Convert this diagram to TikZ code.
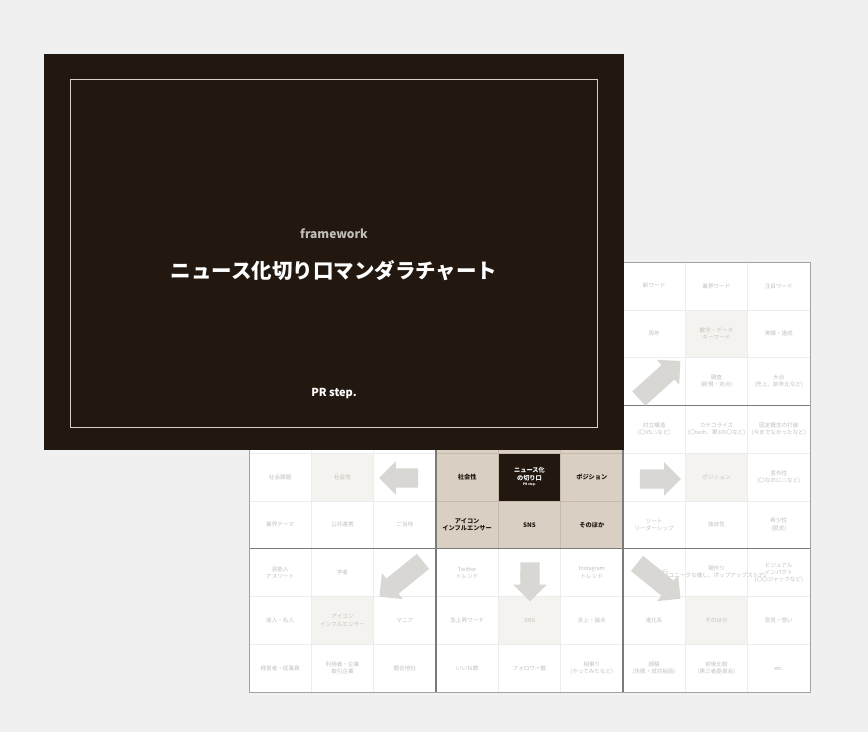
\documentclass[tikz,border=0pt]{standalone}
\usepackage{fontspec}
\setmainfont{Noto Sans CJK JP}
\usetikzlibrary{shapes.arrows}
\definecolor{cardBrown}{HTML}{231810}
\definecolor{coreTan}{HTML}{D9CFC3}
\definecolor{coreLine}{HTML}{C6BAAC}
\definecolor{softCell}{HTML}{F5F3F0}
\definecolor{arrowGray}{HTML}{D9D7D3}
\definecolor{faintText}{HTML}{C4C0BC}
\definecolor{pageGray}{HTML}{F0F0F0}
\definecolor{cellLine}{HTML}{EDEDED}
\definecolor{blockLine}{HTML}{7A7A7A}
\definecolor{frameLine}{HTML}{D6D0CA}
\begin{document}
\begin{tikzpicture}
[x=1pt,y=1pt,
  cellText/.style={text=faintText,font=\fontsize{5.6}{7.2}\selectfont,align=center,inner sep=0pt},%
  coreText/.style={text=cardBrown,font=\bfseries\fontsize{6.2}{7.6}\selectfont,align=center,inner sep=0pt},%
  bigArrow/.style={single arrow,fill=arrowGray,inner sep=9.5pt,single arrow head extend=7pt,
    single arrow head indent=0pt,minimum height=40pt}]
%% page
\fill[pageGray] (0,0) rectangle (868,732);
\useasboundingbox (0,0) rectangle (868,732);
\fill[white] (249,40) rectangle (810,470);
%% highlighted cells
\foreach \r/\c in {1/7, 4/1, 4/7, 7/1, 7/4, 7/7}
{
  \fill[softCell] ({249+\c*62.33},{470-\r*47.78}) rectangle ({249+(\c+1)*62.33},{470-(\r+1)*47.78});
}
\fill[coreTan] ({249+3*62.33},{470-3*47.78}) rectangle ({249+6*62.33},{470-6*47.78});
\fill[cardBrown] ({249+4*62.33},{470-4*47.78}) rectangle ({249+5*62.33},{470-5*47.78});
%% grid lines
\foreach \i in {1,2,4,5,7,8}
{
  \draw[cellLine,line width=0.5pt] ({249+\i*62.33},40) -- ({249+\i*62.33},470);
  \draw[cellLine,line width=0.5pt] (249,{470-\i*47.78}) -- (810,{470-\i*47.78});
}
\foreach \i in {4,5}
{
  \draw[coreLine,line width=0.7pt] ({249+\i*62.33},{470-3*47.78}) -- ({249+\i*62.33},{470-6*47.78});
  \draw[coreLine,line width=0.7pt] ({249+3*62.33},{470-\i*47.78}) -- ({249+6*62.33},{470-\i*47.78});
}
\foreach \i in {3,6}
{
  \draw[blockLine,line width=1.1pt] ({249+\i*62.33},40) -- ({249+\i*62.33},470);
  \draw[blockLine,line width=1.1pt] (249,{470-\i*47.78}) -- (810,{470-\i*47.78});
}
\draw[blockLine!70,line width=0.9pt] (249,40) rectangle (810,470);
%% outer cells
\foreach \r/\c/\txt in {
  0/6/新ワード, 0/7/業界ワード, 0/8/注目ワード,
  1/6/周年, 1/7/{数字・データ\\キーワード}, 1/8/実績・達成,
  2/7/{調査\\(新規・定点)}, 2/8/{大台\\(売上、前年比など)},
  3/6/{対立構造\\(〇VS△など)}, 3/7/{カテゴライズ\\(〇tech、第3の〇など)},
  3/8/{固定概念の打破\\(今までなかったなど)},
  4/0/社会課題, 4/1/社会性, 4/7/ポジション, 4/8/{意外性\\(〇なのに△など)},
  5/0/業界テーマ, 5/1/公共連携, 5/2/ご当地,
  5/6/{ソート\\リーダーシップ}, 5/7/独自性, 5/8/{希少性\\(限定)},
  6/0/{芸能人\\アスリート}, 6/1/学者, 6/3/{Twitter\\トレンド}, 6/4/{TikTok\\トレンド},
  6/5/{Instagram\\トレンド}, 6/6/季節の流行, 6/7/{場作り\\(ユニークな催し、ポップアップストア)},
  6/8/{ビジュアル\\インパクト\\(〇〇ジャックなど)},
  7/0/達人・名人, 7/1/{アイコン\\インフルエンサー}, 7/2/マニア,
  7/3/急上昇ワード, 7/4/SNS, 7/5/炎上・論点,
  7/6/進化系, 7/7/そのほか, 7/8/意見・想い,
  8/0/経営者・従業員, 8/1/{利用者・企業\\取引企業}, 8/2/競合他社,
  8/3/いいね数, 8/4/フォロワー数, 8/5/{相乗り\\(やってみたなど)},
  8/6/{経験\\(失敗・成功秘話)}, 8/7/{前後比較\\(第三者委員会)}, 8/8/etc.}
{
  \node[cellText] (cell-\r-\c) at ({249+(\c+0.5)*62.33},{470-(\r+0.5)*47.78}) {\txt};
}
%% core cells
\foreach \r/\c/\txt in {
  4/3/社会性, 4/5/ポジション,
  5/3/{アイコン\\インフルエンサー}, 5/4/SNS, 5/5/そのほか}
{
  \node[coreText] (core-\r-\c) at ({249+(\c+0.5)*62.33},{470-(\r+0.5)*47.78}) {\txt};
}
\node[coreText,text=white] (core-4-4) at ({249+4.5*62.33},{470-4.5*47.78+3}) {ニュース化\\の切り口};
\node[coreText,text=white,font=\bfseries\fontsize{3.2}{4}\selectfont,below=2pt] (coreBrand)
  at (core-4-4.south) {PR step.};
%% arrows
\foreach \arrowname/\x/\y/\turn/\len in {
  toSocial/403.5/254/180/39, toPosition/655.5/253/0/41, toKeyword/656/349/42/56,
  toSns/530/155/270/39, toIcon/405/156/219/56, toOther/655/154/321/56}
{
  \node[bigArrow,rotate=\turn,minimum height=\len pt] (\arrowname) at (\x,\y) {};
}
%% cover card
\node[fill=cardBrown,minimum width=580pt,minimum height=396pt,inner sep=0pt] (card) at (334,480) {};
\draw[frameLine,line width=1.3pt] ([shift={(27,23)}]card.south west) rectangle ([shift={(-27,-26)}]card.north east);
\node[text=frameLine!75!gray,font=\bfseries\fontsize{12}{14}\selectfont] (frameworkLabel) at (334,498) {framework};
\node[text=white,font=\bfseries\fontsize{20.5}{24}\selectfont] (chartTitle) at (334,461) {ニュース化切り口マンダラチャート};
\node[text=white,font=\bfseries\fontsize{11}{13}\selectfont] (brandMark) at (334,338) {PR step.};
\end{tikzpicture}
\end{document}
